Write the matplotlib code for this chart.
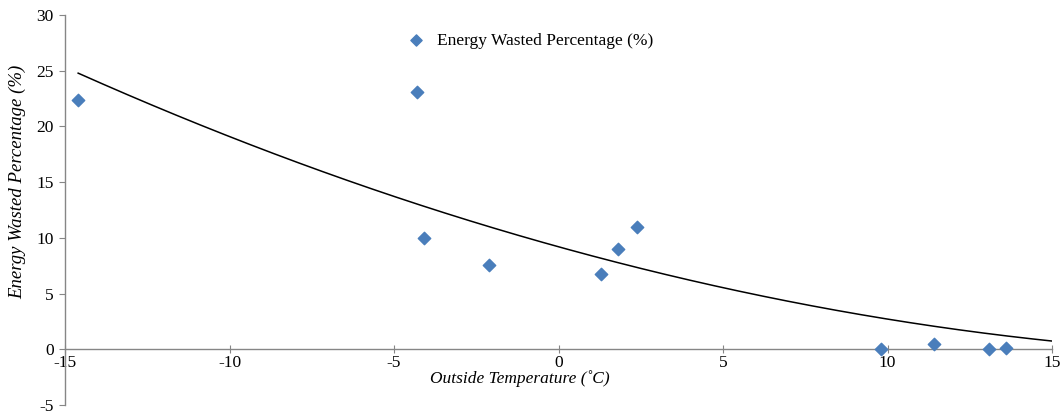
import numpy as np
import matplotlib
matplotlib.use("Agg")
import matplotlib.pyplot as plt

# outside temperature (C) vs energy wasted (%)
temp = [-14.6, -4.3, -4.1, -2.1, 1.3, 1.8, 2.4, 9.8, 11.4, 13.1, 13.6]
wasted = [22.4, 23.1, 10.0, 7.6, 6.8, 9.0, 11.0, 0.0, 0.45, 0.0, 0.1]

# 2nd order trend line (c2, c1, c0)
trend_coef = [0.0170, -0.819, 9.2]

xticks = [-15, -10, -5, 0, 5, 10, 15]
yticks = [-5, 0, 5, 10, 15, 20, 25, 30]

plt.rcParams['font.family'] = ['Liberation Serif', 'DejaVu Serif']

fig = plt.figure(figsize=(10.63, 4.2), dpi=100)
ax = fig.add_axes([65/1063, 15/420, (1052-65)/1063, (405-15)/420])

grey = '#868686'
ax.scatter(temp, wasted, marker='D', s=40, color='#4a7ebb', zorder=3,
           label='Energy Wasted Percentage (%)')

xs = np.linspace(min(temp), 15, 200)
ax.plot(xs, np.polyval(trend_coef, xs), color='black', lw=1.1, zorder=2)

ax.set_xlim(-15, 15)
ax.set_ylim(-5, 30)
ax.set_xticks(xticks)
ax.set_yticks(yticks)
ax.set_xticklabels([str(t) for t in xticks])
ax.set_yticklabels([str(t) for t in yticks])

for s in ['top', 'right']:
    ax.spines[s].set_visible(False)
ax.spines['bottom'].set_position(('data', 0))
ax.spines['bottom'].set_color(grey)
ax.spines['left'].set_color(grey)
ax.spines['bottom'].set_linewidth(1.0)
ax.spines['left'].set_linewidth(1.0)
ax.tick_params(axis='x', direction='inout', length=6, color=grey, labelsize=12.5, pad=1)
ax.tick_params(axis='y', direction='out', length=4, color=grey, labelsize=12.5, pad=4)

# axis titles placed where they sit in the original
fig.text(18/1063, 1 - 182/420, 'Energy Wasted Percentage (%)', fontsize=13.5,
         style='italic', ha='center', va='center', rotation=90)
fig.text(520/1063, 1 - 379/420, 'Outside Temperature (˚C)', fontsize=12.5,
         style='italic', ha='center', va='center')

ax.legend(loc='upper left', bbox_to_anchor=(0.322, 0.995), frameon=False,
          fontsize=12.5, handletextpad=0.2, markerscale=0.9)

fig.savefig('out.png', dpi=100)
